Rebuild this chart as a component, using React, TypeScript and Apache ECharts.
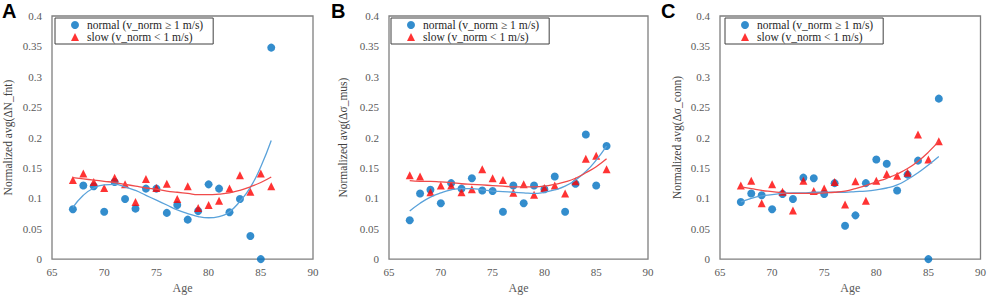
import React, { useEffect, useRef } from "react";
import * as echarts from "echarts";

const ages = [67, 68, 69, 70, 71, 72, 73, 74, 75, 76, 77, 78, 79, 80, 81, 82, 83, 84, 85, 86];

const aNormal = [0.082, 0.121, 0.120, 0.078, 0.127, 0.099, 0.083, 0.116, 0.116, 0.076, 0.089, 0.065, 0.079, 0.123, 0.116, 0.077, 0.099, 0.038, 0.0, 0.348];
const aSlow = [0.130, 0.141, 0.127, 0.117, 0.134, 0.123, 0.094, 0.132, 0.117, 0.124, 0.099, 0.120, 0.084, 0.089, 0.096, 0.116, 0.138, 0.111, 0.141, 0.120];
const aNormalTrend = [0.085, 0.105, 0.117, 0.122, 0.123, 0.119, 0.113, 0.105, 0.097, 0.089, 0.081, 0.075, 0.070, 0.068, 0.070, 0.078, 0.095, 0.118, 0.152, 0.195];
const aSlowTrend = [0.134, 0.132, 0.130, 0.128, 0.126, 0.123, 0.120, 0.117, 0.115, 0.112, 0.110, 0.108, 0.106, 0.106, 0.107, 0.109, 0.113, 0.119, 0.126, 0.135];

const bNormal = [0.064, 0.108, 0.114, 0.092, 0.125, 0.116, 0.133, 0.113, 0.112, 0.078, 0.121, 0.092, 0.121, 0.115, 0.136, 0.078, 0.124, 0.205, 0.121, 0.186];
const bSlow = [0.138, 0.136, 0.110, 0.121, 0.121, 0.110, 0.115, 0.148, 0.133, 0.130, 0.109, 0.123, 0.106, 0.117, 0.121, 0.108, 0.128, 0.165, 0.170, 0.148];
const bNormalTrend = [0.079, 0.092, 0.102, 0.109, 0.114, 0.116, 0.116, 0.114, 0.112, 0.111, 0.110, 0.109, 0.108, 0.110, 0.114, 0.120, 0.130, 0.144, 0.163, 0.186];
const bSlowTrend = [0.129, 0.128, 0.128, 0.127, 0.126, 0.124, 0.123, 0.122, 0.121, 0.120, 0.119, 0.119, 0.119, 0.120, 0.123, 0.127, 0.133, 0.142, 0.152, 0.165];

const cNormal = [0.094, 0.108, 0.105, 0.082, 0.107, 0.099, 0.134, 0.133, 0.107, 0.125, 0.055, 0.072, 0.125, 0.164, 0.157, 0.113, 0.139, 0.162, 0.0, 0.264];
const cSlow = [0.121, 0.129, 0.092, 0.123, 0.111, 0.080, 0.129, 0.112, 0.116, 0.127, 0.090, 0.128, 0.096, 0.129, 0.140, 0.137, 0.142, 0.205, 0.164, 0.194];
const cNormalTrend = [0.094, 0.100, 0.104, 0.106, 0.108, 0.109, 0.109, 0.110, 0.110, 0.110, 0.110, 0.111, 0.112, 0.114, 0.117, 0.122, 0.131, 0.142, 0.155, 0.169];
const cSlowTrend = [0.119, 0.116, 0.113, 0.111, 0.109, 0.108, 0.108, 0.108, 0.109, 0.110, 0.112, 0.116, 0.121, 0.127, 0.133, 0.140, 0.149, 0.161, 0.176, 0.194];

const panelLetters = ["A", "B", "C"];
const yTitles = ["Normalized avg(ΔN_fnt)", "Normalized avg(Δσ_mus)", "Normalized avg(Δσ_conn)"];
const xTitle = "Age";
const normalName = "normal (v_norm ≥ 1 m/s)";
const slowName = "slow (v_norm < 1 m/s)";

const panels = [
  { normal: aNormal, slow: aSlow, nTrend: aNormalTrend, sTrend: aSlowTrend },
  { normal: bNormal, slow: bSlow, nTrend: bNormalTrend, sTrend: bSlowTrend },
  { normal: cNormal, slow: cSlow, nTrend: cNormalTrend, sTrend: cSlowTrend },
];

const layout = [
  { left: 52, width: 261, nameGap: 38, legendLeft: 55, letterX: 2 },
  { left: 389, width: 259, nameGap: 40, legendLeft: 391, letterX: 331 },
  { left: 720, width: 261, nameGap: 37, legendLeft: 725, letterX: 661 },
];

const SERIF = "Liberation Serif";
const BLUE = "#0070C0";
const RED = "#FF0000";

const pair = (ys: number[]) => ages.map((a, i) => [a, ys[i]]);

export default function App() {
  const ref = useRef<HTMLDivElement>(null);
  useEffect(() => {
    if (!ref.current) return;
    const chart = echarts.init(ref.current, undefined, { renderer: "svg" });
    const grid: any[] = [];
    const xAxis: any[] = [];
    const yAxis: any[] = [];
    const series: any[] = [];
    const legend: any[] = [];
    const graphic: any[] = [];
    panels.forEach((p, i) => {
      const L = layout[i];
      grid.push({
        left: L.left, top: 16, width: L.width, height: 250,
        show: true, borderColor: "#7f7f7f", borderWidth: 1.3, backgroundColor: "transparent",
      });
      xAxis.push({
        type: "value", gridIndex: i, min: 65, max: 90, interval: 5,
        name: xTitle, nameLocation: "middle", nameGap: 18,
        nameTextStyle: { fontFamily: SERIF, fontSize: 12, color: "#595959" },
        axisLine: { show: false }, axisTick: { show: false }, splitLine: { show: false },
        axisLabel: { fontFamily: SERIF, fontSize: 11, color: "#595959", margin: 7 },
      });
      yAxis.push({
        type: "value", gridIndex: i, min: 0, max: 0.4, interval: 0.05,
        name: yTitles[i], nameLocation: "middle", nameGap: L.nameGap,
        nameTextStyle: { fontFamily: SERIF, fontSize: 11.5, color: "#404040" },
        axisLine: { show: false }, axisTick: { show: false }, splitLine: { show: false },
        axisLabel: {
          fontFamily: SERIF, fontSize: 11, color: "#595959", margin: 10,
          formatter: (v: number) => String(+v.toFixed(2)),
        },
      });
      series.push({
        name: normalName, type: "scatter", xAxisIndex: i, yAxisIndex: i,
        symbol: "circle", symbolSize: 8, itemStyle: { color: BLUE }, data: pair(p.normal), z: 2,
      });
      series.push({
        name: slowName, type: "scatter", xAxisIndex: i, yAxisIndex: i,
        symbol: "triangle", symbolSize: 8, itemStyle: { color: RED }, data: pair(p.slow), z: 3,
      });
      series.push({
        name: "trend normal " + i, type: "line", xAxisIndex: i, yAxisIndex: i, smooth: true,
        showSymbol: false, lineStyle: { color: "#5AA2DA", width: 1.3 }, data: pair(p.nTrend), z: 4,
      });
      series.push({
        name: "trend slow " + i, type: "line", xAxisIndex: i, yAxisIndex: i, smooth: true,
        showSymbol: false, lineStyle: { color: "#F04A4A", width: 1.3 }, data: pair(p.sTrend), z: 4,
      });
      legend.push({
        left: L.legendLeft, top: 18, orient: "vertical",
        data: [{ name: normalName, icon: "circle" }, { name: slowName, icon: "triangle" }],
        itemWidth: 8, itemHeight: 8, itemGap: 0,
        padding: [1, 10, 1, 16],
        borderColor: "#404040", borderWidth: 1,
        selectedMode: false,
        textStyle: { fontFamily: SERIF, fontSize: 11.5, color: "#262626", lineHeight: 11, padding: [0, 0, 0, 3] },
      });
      graphic.push({
        type: "text", left: L.letterX, top: 1,
        style: { text: panelLetters[i], fontFamily: "Liberation Sans", fontWeight: "bold", fontSize: 20, fill: "#000" },
      });
    });
    chart.setOption({
      animation: false,
      backgroundColor: "#ffffff",
      grid, xAxis, yAxis, series, legend, graphic,
    });
    return () => chart.dispose();
  }, []);
  return <div ref={ref} style={{ position: "fixed", left: 0, top: 0, width: 989, height: 299 }} />;
}
